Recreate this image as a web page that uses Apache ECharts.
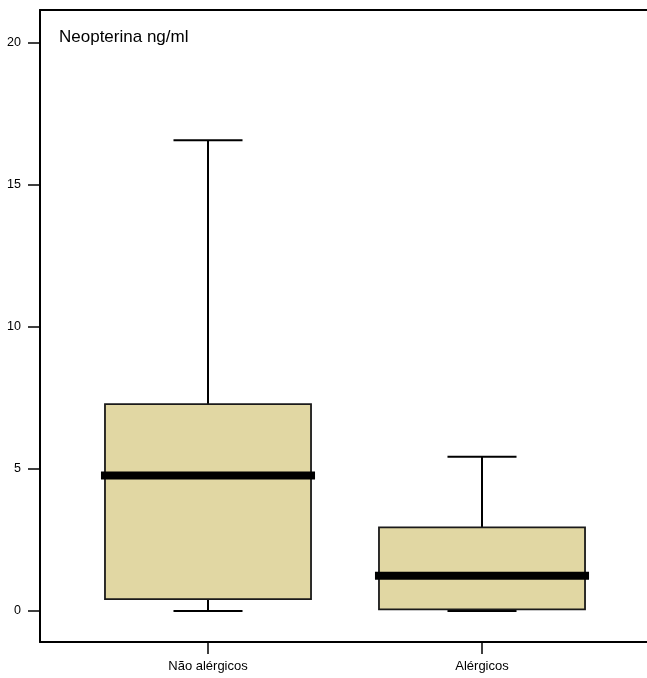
<!DOCTYPE html>
<html>
<head>
<meta charset="utf-8">
<script src="https://cdn.jsdelivr.net/npm/echarts@6/dist/echarts.min.js"></script>
<style>
html,body{margin:0;padding:0;background:#fff;}
#chart{width:647px;height:678px;}
</style>
</head>
<body>
<div id="chart"></div>
<script>
const categories = ['Não alérgicos', 'Alérgicos'];
const minVals = [0, 0];
const q1Vals = [0.42, 0.06];
const medianVals = [4.77, 1.24];
const q3Vals = [7.28, 2.94];
const maxVals = [16.56, 5.43];
const yTicks = [0, 5, 10, 15, 20];
const yTitle = 'Neopterina ng/ml';

const yMin = -1.09, yMax = 21.14;
const boxData = categories.map((c, i) => [i, minVals[i], q1Vals[i], medianVals[i], q3Vals[i], maxVals[i]]);

const chart = echarts.init(document.getElementById('chart'), null, {renderer: 'canvas'});
const fontFam = 'Liberation Sans, Arial, sans-serif';

chart.setOption({
  animation: false,
  backgroundColor: '#fff',
  title: {
    text: yTitle,
    left: 54,
    top: 24,
    textStyle: {fontFamily: fontFam, fontSize: 17, fontWeight: 'normal', color: '#000'}
  },
  grid: [
    {left: 40, right: 0, top: 10, bottom: 36},
    {left: 71, right: 28, top: 10, bottom: 36}
  ],
  xAxis: [
    {gridIndex: 0, type: 'value', min: 0, max: 1, position: 'bottom',
     axisLine: {show: true, onZero: false, lineStyle: {color: '#000', width: 2}},
     axisTick: {show: false}, axisLabel: {show: false}, splitLine: {show: false}},
    {gridIndex: 0, type: 'value', min: 0, max: 1, position: 'top',
     axisLine: {show: true, onZero: false, lineStyle: {color: '#000', width: 2}},
     axisTick: {show: false}, axisLabel: {show: false}, splitLine: {show: false}},
    {gridIndex: 1, type: 'category', data: categories, position: 'bottom',
     axisLine: {show: false, onZero: false},
     axisTick: {show: true, alignWithLabel: true, length: 12, lineStyle: {color: '#000', width: 1.5}},
     axisLabel: {margin: 18, fontFamily: fontFam, fontSize: 13, color: '#000'},
     splitLine: {show: false}}
  ],
  yAxis: [
    {gridIndex: 0, type: 'value', min: yMin, max: yMax,
     axisLine: {show: true, onZero: false, lineStyle: {color: '#000', width: 2}},
     axisTick: {show: true, length: 12, customValues: yTicks, lineStyle: {color: '#000', width: 1.5}},
     axisLabel: {show: true, customValues: yTicks, margin: 19, fontFamily: fontFam, fontSize: 12.5, color: '#000'},
     splitLine: {show: false}},
    {gridIndex: 1, type: 'value', min: yMin, max: yMax, show: false, splitLine: {show: false}}
  ],
  series: [{
    type: 'custom',
    xAxisIndex: 2,
    yAxisIndex: 1,
    data: boxData,
    encode: {x: 0, y: [1, 2, 3, 4, 5]},
    renderItem: function (params, api) {
      const idx = api.value(0);
      const mn = api.value(1), q1 = api.value(2), med = api.value(3), q3 = api.value(4), mx = api.value(5);
      const band = api.size([1, 0])[0];
      const boxW = band * 0.752;
      const capW = boxW * 0.335;
      const cx = api.coord([idx, med])[0];
      const yMn = api.coord([idx, mn])[1];
      const yQ1 = api.coord([idx, q1])[1];
      const yMed = api.coord([idx, med])[1];
      const yQ3 = api.coord([idx, q3])[1];
      const yMx = api.coord([idx, mx])[1];
      const lineStyle = {stroke: '#000', lineWidth: 2, fill: null};
      return {
        type: 'group',
        children: [
          {type: 'line', shape: {x1: cx, y1: yQ3, x2: cx, y2: yMx}, style: lineStyle},
          {type: 'line', shape: {x1: cx - capW / 2, y1: yMx, x2: cx + capW / 2, y2: yMx}, style: lineStyle},
          {type: 'line', shape: {x1: cx, y1: yMn, x2: cx, y2: yQ1}, style: lineStyle},
          {type: 'line', shape: {x1: cx - capW / 2, y1: yMn, x2: cx + capW / 2, y2: yMn}, style: lineStyle},
          {type: 'rect', shape: {x: cx - boxW / 2, y: yQ3, width: boxW, height: yQ1 - yQ3},
           style: {fill: '#e1d7a3', stroke: '#1a1a1a', lineWidth: 1.8}},
          {type: 'rect', shape: {x: cx - boxW / 2 - 4, y: yMed - 4, width: boxW + 8, height: 8},
           style: {fill: '#000', stroke: null}}
        ]
      };
    }
  }]
});
</script>
</body>
</html>
